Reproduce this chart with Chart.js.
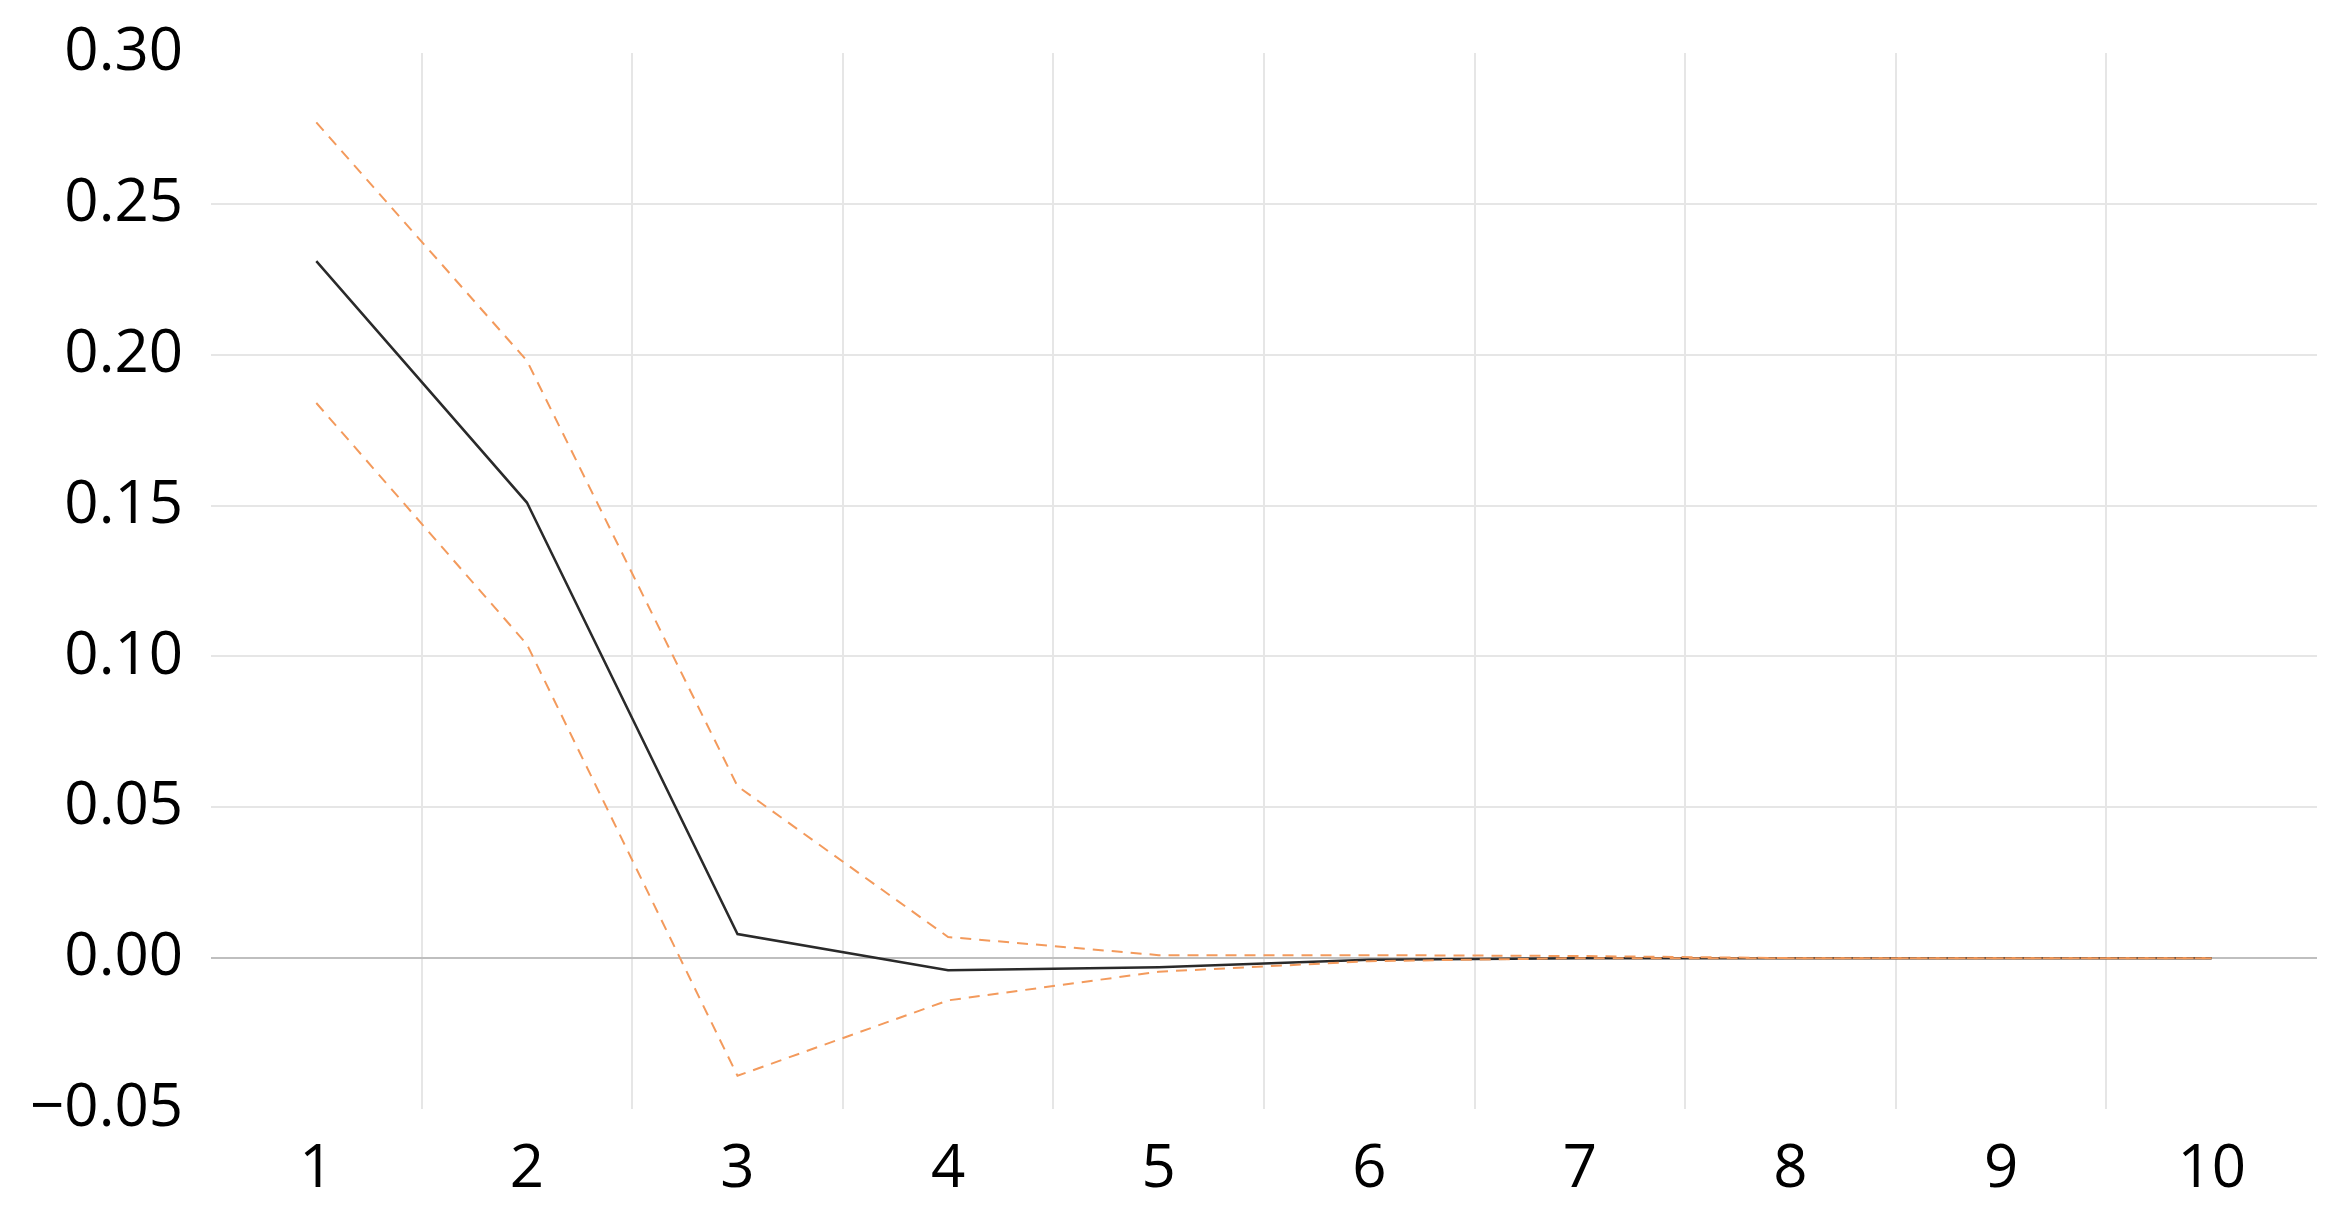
<!DOCTYPE html>
<html>
<head>
<meta charset="utf-8">
<script src="https://cdn.jsdelivr.net/npm/chart.js@4/dist/chart.umd.min.js"></script>
<style>
  html, body { margin: 0; padding: 0; background: #ffffff; }
  #wrap { width: 2348px; height: 1214px; }
</style>
</head>
<body>
<div id="wrap"><canvas id="c" width="2348" height="1214"></canvas></div>
<script>
const categories = ["1", "2", "3", "4", "5", "6", "7", "8", "9", "10"];
const responseValues = [0.231, 0.151, 0.008, -0.004, -0.003, -0.0005, 0, 0, 0, 0];
const upperBand = [0.277, 0.198, 0.057, 0.007, 0.001, 0.001, 0.0007, 0, 0, 0];
const lowerBand = [0.184, 0.104, -0.039, -0.014, -0.0045, -0.001, 0, 0, 0, 0];
const yMin = -0.05, yMax = 0.30, yStep = 0.05;

const orange = '#F39A5C';
const FAMILY = '"Open Sans", "Noto Sans", sans-serif';

new Chart(document.getElementById('c'), {
  type: 'line',
  data: {
    labels: categories,
    datasets: [
      { label: 'upper', data: upperBand, borderColor: orange, borderWidth: 2, borderDash: [11, 8],
        pointRadius: 0, fill: false, tension: 0, order: 0 },
      { label: 'lower', data: lowerBand, borderColor: orange, borderWidth: 2, borderDash: [11, 8],
        pointRadius: 0, fill: false, tension: 0, order: 0 },
      { label: 'response', data: responseValues, borderColor: '#2a2a2a', borderWidth: 2.5,
        pointRadius: 0, fill: false, tension: 0, order: 1 }
    ]
  },
  options: {
    responsive: false,
    devicePixelRatio: 1,
    animation: false,
    layout: { padding: { left: 0, right: 31, top: 53, bottom: 0 } },
    plugins: { legend: { display: false }, tooltip: { enabled: false } },
    scales: {
      x: {
        type: 'category',
        offset: true,
        border: { display: false },
        grid: {
          offset: true,
          drawTicks: false,
          lineWidth: 2,
          color: (ctx) => (ctx.type !== 'tick' || ctx.index === 0) ? 'rgba(0,0,0,0)' : '#e6e6e6'
        },
        ticks: { color: '#000', font: { family: FAMILY, size: 60 }, padding: 25, maxRotation: 0, autoSkip: false },
        afterFit: (s) => { s.height = 1214 - 1109; }
      },
      y: {
        min: yMin,
        max: yMax,
        border: { display: false },
        grid: {
          drawTicks: false,
          lineWidth: 2,
          color: (ctx) => {
            if (ctx.type !== 'tick') return 'rgba(0,0,0,0)';
            const v = ctx.tick.value;
            if (Math.abs(v - yMax) < 1e-9 || Math.abs(v - yMin) < 1e-9) return 'rgba(0,0,0,0)';
            if (Math.abs(v) < 1e-9) return '#bfbfbf';
            return '#e6e6e6';
          }
        },
        ticks: {
          stepSize: yStep,
          color: '#000',
          font: { family: FAMILY, size: 60, lineHeight: 0.6 },
          padding: 28,
          callback: (v) => {
            const s = (Math.abs(v) < 1e-9 ? 0 : v).toFixed(2);
            return s.replace('-', '\u2212');
          }
        },
        afterFit: (s) => { s.width = 211; }
      }
    }
  }
});
</script>
</body>
</html>
